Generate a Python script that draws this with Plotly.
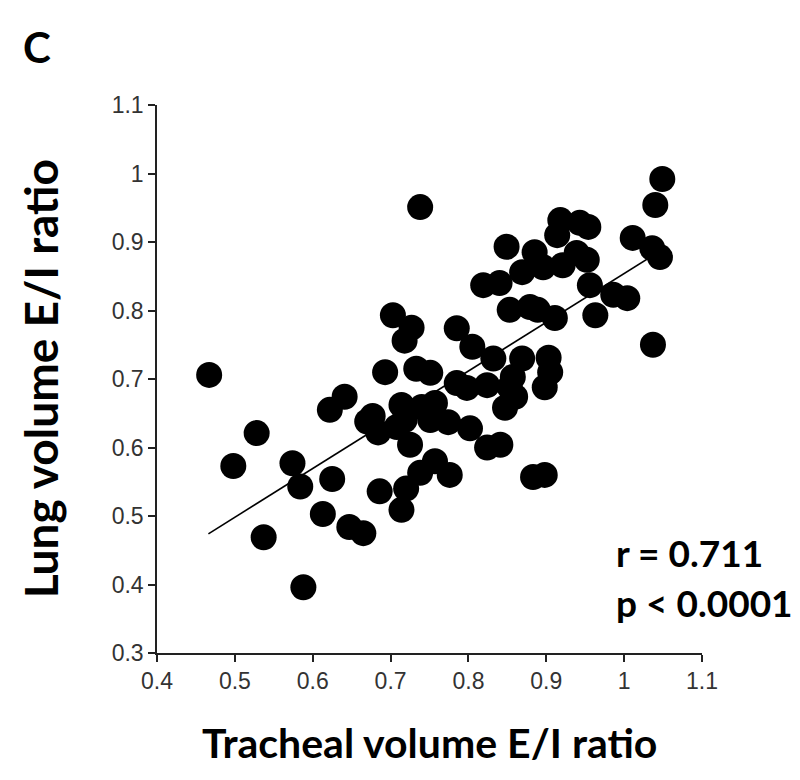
import plotly.graph_objects as go

# Data
tracheal_ei = [0.467, 0.498, 0.528, 0.537, 0.574, 0.584, 0.588, 0.613, 0.625, 0.622,
               0.641, 0.647, 0.665, 0.670, 0.677, 0.684, 0.686, 0.693, 0.703, 0.718,
               0.727, 0.714, 0.718, 0.720, 0.714, 0.725, 0.733, 0.740, 0.738, 0.738,
               0.751, 0.757, 0.757, 0.776, 0.774, 0.785, 0.785, 0.798, 0.805, 0.802,
               0.824, 0.824, 0.841, 0.819, 0.840, 0.832, 0.847, 0.860, 0.853, 0.857,
               0.849, 0.853, 0.869, 0.869, 0.879, 0.883, 0.885, 0.889, 0.896, 0.898,
               0.898, 0.903, 0.905, 0.911, 0.914, 0.918, 0.921, 0.939, 0.943, 0.954,
               0.952, 0.956, 0.963, 0.986, 1.004, 1.011, 1.036, 1.046, 1.040, 1.049,
               1.037, 0.708, 0.751]
lung_ei = [0.706, 0.573, 0.621, 0.469, 0.577, 0.543, 0.396, 0.503, 0.554, 0.655,
           0.674, 0.484, 0.475, 0.638, 0.646, 0.622, 0.536, 0.710, 0.793, 0.756,
           0.775, 0.662, 0.640, 0.540, 0.509, 0.604, 0.715, 0.659, 0.563, 0.951,
           0.709, 0.665, 0.580, 0.560, 0.637, 0.774, 0.694, 0.687, 0.747, 0.628,
           0.691, 0.600, 0.604, 0.837, 0.840, 0.730, 0.658, 0.674, 0.688, 0.703,
           0.893, 0.801, 0.730, 0.856, 0.805, 0.557, 0.885, 0.801, 0.863, 0.560,
           0.688, 0.731, 0.710, 0.789, 0.910, 0.932, 0.866, 0.884, 0.928, 0.922,
           0.874, 0.837, 0.793, 0.823, 0.818, 0.906, 0.891, 0.878, 0.954, 0.992,
           0.750, 0.630, 0.640]

fit_x = [0.466, 1.045]
fit_y = [0.474, 0.886]

x_ticks = [0.4, 0.5, 0.6, 0.7, 0.8, 0.9, 1.0, 1.1]
x_tick_labels = ["0.4", "0.5", "0.6", "0.7", "0.8", "0.9", "1", "1.1"]
y_ticks = [0.3, 0.4, 0.5, 0.6, 0.7, 0.8, 0.9, 1.0, 1.1]
y_tick_labels = ["0.3", "0.4", "0.5", "0.6", "0.7", "0.8", "0.9", "1", "1.1"]

stats_lines = ["r = 0.711", "p < 0.0001"]

fig = go.Figure()
fig.add_trace(go.Scatter(
    x=tracheal_ei, y=lung_ei, mode="markers",
    marker=dict(size=26, color="black", line=dict(width=0)),
    cliponaxis=False, showlegend=False, hoverinfo="skip"))
fig.add_trace(go.Scatter(
    x=fit_x, y=fit_y, mode="lines",
    line=dict(color="black", width=1.6),
    showlegend=False, hoverinfo="skip"))

bold_font = "Lato, 'Open Sans', sans-serif"
tick_font = dict(family="'Liberation Sans Narrow', 'Arial Narrow', 'Liberation Sans', sans-serif",
                 size=23, color="#333333")

fig.update_layout(
    width=800, height=780,
    margin=dict(l=149, r=106, t=97, b=135),
    paper_bgcolor="white", plot_bgcolor="white",
    xaxis=dict(range=[0.4, 1.1], tickvals=x_ticks, ticktext=x_tick_labels,
               showgrid=False, zeroline=False, showline=True, linecolor="#222222",
               linewidth=1.5, ticks="outside", ticklen=7, tickwidth=1.5,
               tickcolor="#222222", tickfont=tick_font),
    yaxis=dict(range=[0.3, 1.1], tickvals=y_ticks, ticktext=y_tick_labels,
               showgrid=False, zeroline=False, showline=True, linecolor="#222222",
               linewidth=1.5, ticks="outside", ticklen=7, tickwidth=1.5,
               tickcolor="#222222", tickfont=tick_font),
    annotations=[
        dict(text="<b>C</b>", xref="paper", yref="paper", x=-0.22, y=1.106,
             xanchor="center", yanchor="middle", showarrow=False,
             font=dict(family=bold_font, size=42, color="black")),
        dict(text="<b>Tracheal volume E/I ratio</b>", xref="paper", yref="paper",
             x=0.5, y=-0.163, xanchor="center", yanchor="middle", showarrow=False,
             font=dict(family=bold_font, size=41, color="black")),
        dict(text="<b>Lung volume E/I ratio</b>", xref="paper", yref="paper",
             x=-0.214, y=0.5, xanchor="center", yanchor="middle", textangle=-90,
             showarrow=False, font=dict(family=bold_font, size=46, color="black")),
        dict(text="<b>" + stats_lines[0] + "</b>", xref="paper", yref="paper",
             x=0.8385, y=0.1825, xanchor="left", yanchor="middle", showarrow=False,
             font=dict(family=bold_font, size=37, color="black")),
        dict(text="<b>" + stats_lines[1] + "</b>", xref="paper", yref="paper",
             x=0.8385, y=0.093, xanchor="left", yanchor="middle", showarrow=False,
             font=dict(family=bold_font, size=37, color="black")),
    ],
)

fig.write_html("out.html")
